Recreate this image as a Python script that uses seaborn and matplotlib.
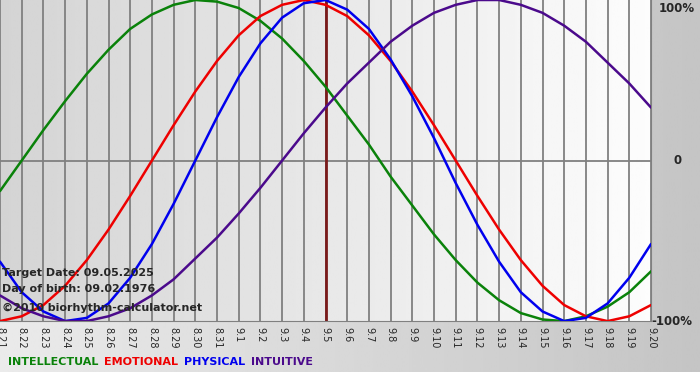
import numpy as np
import pandas as pd
import matplotlib
matplotlib.use("Agg")
import matplotlib.pyplot as plt
import seaborn as sns

# Days shown on the x axis (month.day)
dates = ["8.21", "8.22", "8.23", "8.24", "8.25", "8.26", "8.27", "8.28", "8.29", "8.30", "8.31",
         "9.1", "9.2", "9.3", "9.4", "9.5", "9.6", "9.7", "9.8", "9.9", "9.10",
         "9.11", "9.12", "9.13", "9.14", "9.15", "9.16", "9.17", "9.18", "9.19", "9.20"]

# Cycle values per day (-1 .. 1)
intellectual = [-0.19, 0.00, 0.19, 0.37, 0.54, 0.69, 0.82, 0.91, 0.97, 1.00, 0.99,
                0.95, 0.87, 0.76, 0.62, 0.46, 0.28, 0.10, -0.10, -0.28, -0.46,
                -0.62, -0.76, -0.87, -0.95, -0.99, -1.00, -0.97, -0.91, -0.82, -0.69]
emotional = [-1.00, -0.97, -0.90, -0.78, -0.62, -0.43, -0.22, 0.00, 0.22, 0.43, 0.62,
             0.78, 0.90, 0.97, 1.00, 0.97, 0.90, 0.78, 0.62, 0.43, 0.22,
             0.00, -0.22, -0.43, -0.62, -0.78, -0.90, -0.97, -1.00, -0.97, -0.90]
physical = [-0.63, -0.82, -0.94, -1.00, -0.98, -0.89, -0.73, -0.52, -0.27, 0.00, 0.27,
            0.52, 0.73, 0.89, 0.98, 1.00, 0.94, 0.82, 0.63, 0.40, 0.14,
            -0.14, -0.40, -0.63, -0.82, -0.94, -1.00, -0.98, -0.89, -0.73, -0.52]
intuitive = [-0.84, -0.92, -0.97, -1.00, -1.00, -0.97, -0.92, -0.84, -0.74, -0.61, -0.48,
             -0.33, -0.17, 0.00, 0.17, 0.33, 0.48, 0.61, 0.74, 0.84, 0.92,
             0.97, 1.00, 1.00, 0.97, 0.92, 0.84, 0.74, 0.61, 0.48, 0.33]

target_date = "9.5"
target_label = "Target Date: 09.05.2025"
birth_label = "Day of birth: 09.02.1976"
credit_label = "\u00a92010 biorhythm-calculator.net"

cycles = ["INTELLECTUAL", "EMOTIONAL", "PHYSICAL", "INTUITIVE"]
colors = {"INTELLECTUAL": "#0a820a", "EMOTIONAL": "#ee0000",
          "PHYSICAL": "#0000ee", "INTUITIVE": "#4b0a8c"}

# Long format table for seaborn
day_idx = np.arange(len(dates))
df = pd.DataFrame({"day": np.tile(day_idx, 4),
                   "value": intellectual + emotional + physical + intuitive,
                   "cycle": np.repeat(cycles, len(dates))})

sns.set_style("white")
plt.rcParams["font.family"] = ["DejaVu Sans"]

fig = plt.figure(figsize=(7, 3.8), dpi=100)

# figure background: grey gradient, white strip at the bottom
bg = fig.add_axes([0, 0, 1, 1], zorder=-10)
grad = np.linspace(0.92, 0.77, 256).reshape(1, -1)
bg.imshow(grad, cmap="gray", vmin=0, vmax=1, aspect="auto",
          extent=[0, 1, 0.021, 1])
bg.set_xlim(0, 1)
bg.set_ylim(0, 1)
bg.axis("off")

ax = fig.add_axes([0.0, 0.155, 0.93, 0.845])

# plot area gradient (darker on the left)
pgrad = np.linspace(0.83, 0.99, 256).reshape(1, -1)
ax.imshow(pgrad, cmap="gray", vmin=0, vmax=1, aspect="auto",
          extent=[0, len(dates) - 1, -1, 1], zorder=0)

for x in day_idx:
    ax.axvline(x, color="#808080", lw=1.3, zorder=1)
ax.axhline(0, color="#808080", lw=1.3, zorder=1)

ax.axvline(dates.index(target_date), color="#7a1a1a", lw=2, zorder=2)

sns.lineplot(data=df, x="day", y="value", hue="cycle", palette=colors,
             hue_order=cycles, lw=1.8, ax=ax, legend=False, zorder=3)

ax.set_xlim(0, len(dates) - 1)
ax.set_ylim(-1.0, 1.0)
ax.set_xticks(day_idx)
ax.set_xticklabels(dates, rotation=270, fontsize=7)
ax.tick_params(axis="x", length=3, color="#808080", pad=1)
ax.set_yticks([])
ax.set_xlabel("")
ax.set_ylabel("")
for s in ["top", "left"]:
    ax.spines[s].set_visible(False)
ax.spines["bottom"].set_color("#808080")
ax.spines["right"].set_color("#808080")

# right side percentage labels
ytr = ax.get_yaxis_transform()
ax.text(1.012, 0.99, "100%", transform=ytr, ha="left", va="top",
        fontsize=8.5, fontweight="bold")
ax.text(1.035, 0, "0", transform=ytr, ha="left", va="center",
        fontsize=8.5, fontweight="bold")
ax.text(1.0, -1, "-100%", transform=ytr, ha="left", va="center",
        fontsize=8.5, fontweight="bold")

# info text in lower left
ax.text(0.003, 0.14, target_label, transform=ax.transAxes, fontsize=8,
        fontweight="bold", zorder=4)
ax.text(0.003, 0.09, birth_label, transform=ax.transAxes, fontsize=8,
        fontweight="bold", zorder=4)
ax.text(0.003, 0.033, credit_label, transform=ax.transAxes, fontsize=8,
        fontweight="bold", zorder=4)

# coloured legend words
xpos = 0.011
for name in cycles:
    t = fig.text(xpos, 0.048, name, color=colors[name], fontsize=8,
                 fontweight="bold", va="center")
    fig.canvas.draw()
    bb = t.get_window_extent()
    xpos += (bb.width + 6) / fig.bbox.width

fig.savefig("out.png", dpi=100)
